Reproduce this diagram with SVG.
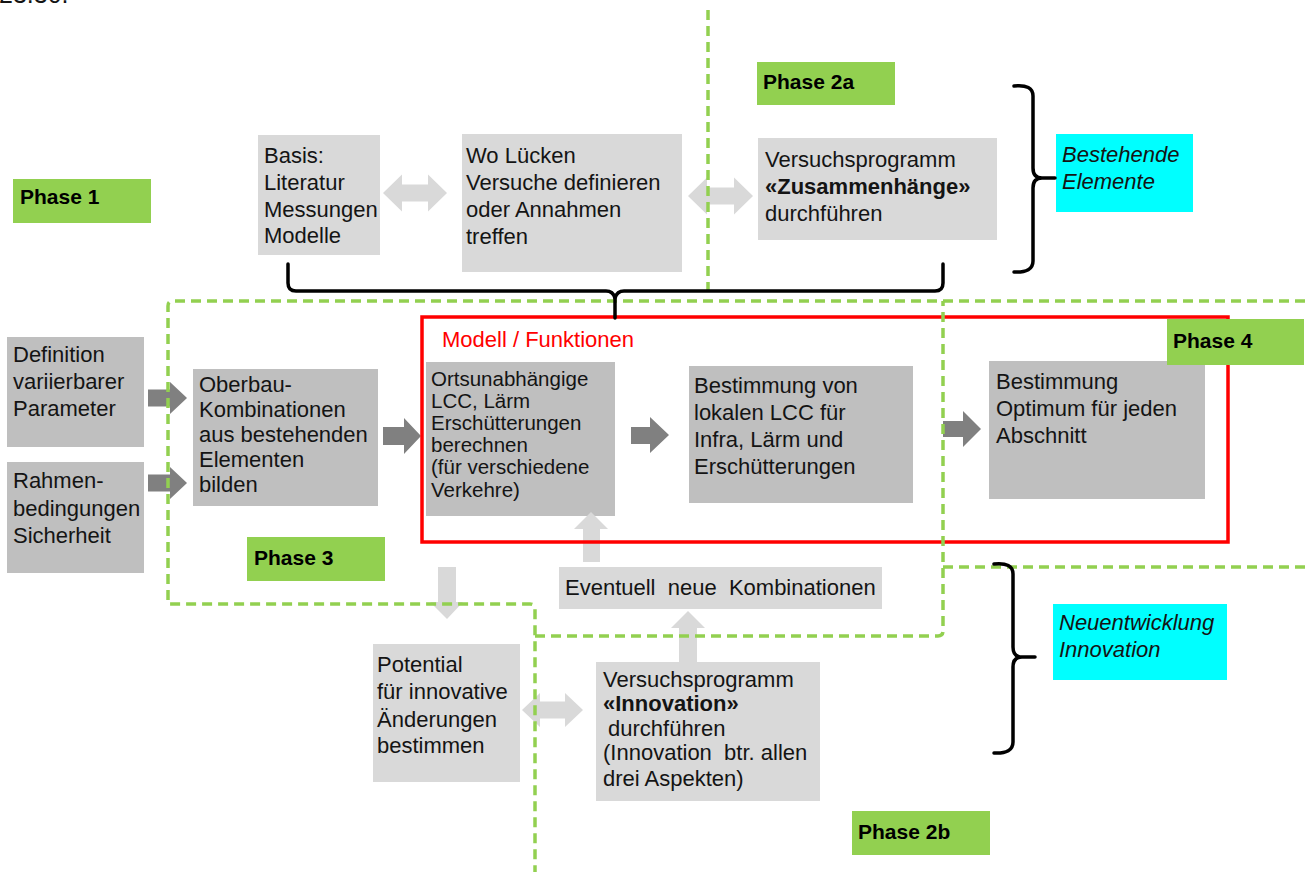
<svg xmlns="http://www.w3.org/2000/svg" width="1309" height="872" viewBox="0 0 1309 872">
<style>
.t{font-family:"Liberation Sans",Arial,sans-serif;font-size:22px;fill:#141414}
.s{font-size:20.5px}
.b{font-weight:bold}
.i{font-style:italic}
.lg{fill:#d9d9d9}
.dg{fill:#bfbfbf}
.ph{fill:#92d050}
.ph-t{font-family:"Liberation Sans",Arial,sans-serif;font-size:21px;font-weight:bold;fill:#000}
.cy{fill:#00ffff}
.la{fill:#d9d9d9}
.da{fill:#808080}
.dash{fill:none;stroke:#92d050;stroke-width:3.5;stroke-dasharray:10 6}
.brace{fill:none;stroke:#000;stroke-width:3.5;stroke-linecap:round;stroke-linejoin:round}
</style>
<rect width="1309" height="872" fill="#fff"/>
<text class="t" x="-1" y="3" style="font-size:25px">23.30.</text>

<g id="node-basis">
<rect class="lg" x="258" y="135" width="122" height="120"/>
<text class="t"><tspan x="264" y="163">Basis:</tspan><tspan x="264" y="190">Literatur</tspan><tspan x="264" y="217">Messungen</tspan><tspan x="264" y="243">Modelle</tspan></text>
</g>
<g id="node-luecken">
<rect class="lg" x="462" y="134" width="220" height="138"/>
<text class="t"><tspan x="466" y="163">Wo Lücken</tspan><tspan x="466" y="190">Versuche definieren</tspan><tspan x="466" y="217">oder Annahmen</tspan><tspan x="466" y="244">treffen</tspan></text>
</g>
<g id="node-zusammenhaenge">
<rect class="lg" x="758" y="138" width="239" height="102"/>
<text class="t"><tspan x="765" y="167">Versuchsprogramm</tspan><tspan x="765" y="194" class="b">«Zusammenhänge»</tspan><tspan x="765" y="221">durchführen</tspan></text>
</g>
<g id="node-bestehende">
<rect class="cy" x="1056" y="134" width="137" height="78"/>
<text class="t i"><tspan x="1062" y="162">Bestehende</tspan><tspan x="1062" y="189">Elemente</tspan></text>
</g>
<g id="node-definition">
<rect class="dg" x="7" y="337" width="137" height="110"/>
<text class="t"><tspan x="13" y="362">Definition</tspan><tspan x="13" y="389">variierbarer</tspan><tspan x="13" y="416">Parameter</tspan></text>
</g>
<g id="node-rahmen">
<rect class="dg" x="7" y="462" width="137" height="111"/>
<text class="t"><tspan x="13" y="488">Rahmen-</tspan><tspan x="13" y="516">bedingungen</tspan><tspan x="13" y="543">Sicherheit</tspan></text>
</g>
<g id="node-oberbau">
<rect class="dg" x="193" y="369" width="185" height="137"/>
<text class="t"><tspan x="199" y="392">Oberbau-</tspan><tspan x="199" y="417">Kombinationen</tspan><tspan x="199" y="442">aus bestehenden</tspan><tspan x="199" y="467">Elementen</tspan><tspan x="199" y="492">bilden</tspan></text>
</g>
<g id="node-ortsunabhaengig">
<rect class="dg" x="426" y="362" width="189" height="154"/>
<text class="t s"><tspan x="431" y="386">Ortsunabhängige</tspan><tspan x="431" y="408">LCC, Lärm</tspan><tspan x="431" y="430">Erschütterungen</tspan><tspan x="431" y="452">berechnen</tspan><tspan x="431" y="474">(für verschiedene</tspan><tspan x="431" y="497">Verkehre)</tspan></text>
</g>
<g id="node-lokal">
<rect class="dg" x="689" y="366" width="224" height="137"/>
<text class="t"><tspan x="694" y="393">Bestimmung von</tspan><tspan x="694" y="420">lokalen LCC für</tspan><tspan x="694" y="447">Infra, Lärm und</tspan><tspan x="694" y="474">Erschütterungen</tspan></text>
</g>
<g id="node-optimum">
<rect class="dg" x="989" y="361" width="216" height="138"/>
<text class="t"><tspan x="996" y="389">Bestimmung</tspan><tspan x="996" y="416">Optimum für jeden</tspan><tspan x="996" y="443">Abschnitt</tspan></text>
</g>
<g id="node-eventuell">
<rect class="lg" x="559" y="567" width="323" height="42"/>
<text class="t" x="565" y="595" xml:space="preserve">Eventuell  neue  Kombinationen</text>
</g>
<g id="node-potential">
<rect class="lg" x="373" y="644" width="147" height="138"/>
<text class="t"><tspan x="377" y="672">Potential</tspan><tspan x="377" y="699">für innovative</tspan><tspan x="377" y="727">Änderungen</tspan><tspan x="377" y="753">bestimmen</tspan></text>
</g>
<g id="node-innovation">
<rect class="lg" x="596" y="662" width="224" height="139"/>
<text class="t"><tspan x="603" y="687">Versuchsprogramm</tspan><tspan x="603" y="711" class="b">«Innovation»</tspan><tspan x="608" y="736">durchführen</tspan><tspan x="603" y="760" xml:space="preserve">(Innovation  btr. allen</tspan><tspan x="603" y="786">drei Aspekten)</tspan></text>
</g>
<g id="node-neuentwicklung">
<rect class="cy" x="1053" y="604" width="174" height="76"/>
<text class="t i"><tspan x="1059" y="630">Neuentwicklung</tspan><tspan x="1059" y="657">Innovation</tspan></text>
</g>

<g id="connectors">
<polygon class="la" points="383,193 402,174.5 402,184.5 428,184.5 428,174.5 447,193 428,211.5 428,201.5 402,201.5 402,211.5"/>
<polygon class="la" points="688,196 707,177.5 707,187.5 734,187.5 734,177.5 753,196 734,214.5 734,204.5 707,204.5 707,214.5"/>
<polygon class="la" points="522,710 540,693 540,701.5 565,701.5 565,693 583,710 565,727 565,718.5 540,718.5 540,727"/>
<polygon class="la" points="591,512 608,529 600,529 600,562 583,562 583,529 574,529"/>
<polygon class="la" points="688,611 705,628 697,628 697,662 679,662 679,628 671,628"/>
<polygon class="la" points="438,567 456,567 456,602 463,602 447,619 430,602 438,602"/>
<polygon class="da" points="148,389.5 170,389.5 170,382 187,398 170,414 170,406.5 148,406.5"/>
<polygon class="da" points="148,474.5 170,474.5 170,467 187,483 170,499 170,491.5 148,491.5"/>
<polygon class="da" points="383,427 404,427 404,418 421,436 404,454 404,445 383,445"/>
<polygon class="da" points="631,427 650,427 650,417 669,435 650,453 650,444 631,444"/>
<polygon class="da" points="943,421 963,421 963,411 981,429 963,447 963,437 943,437"/>
</g>

<g id="model-frame">
<rect x="422" y="317" width="806" height="225" fill="none" stroke="#ff0000" stroke-width="3.5"/>
<text class="t" x="442" y="347" style="fill:#ff0000">Modell / Funktionen</text>
</g>

<g id="phase-boundaries">
<path class="dash" d="M708 10 L708 297"/>
<path class="dash" d="M1305 301 L173 301 Q168 301 168 306 L168 604 L530 604 Q535 604 535 609 L535 872"/>
<path class="dash" d="M535 636 L938 636 Q943 636 943 631 L943 301"/>
<path class="dash" d="M943 567 L1305 567"/>
</g>

<g id="braces">
<path class="brace" d="M288 264 L288 283 Q288 291 296 291 L606 291 Q613 291 615 298 Q617 291 624 291 L935 291 Q943 291 943 283 L943 264"/>
<path class="brace" d="M615 296 L615 318"/>
<path class="brace" d="M1014 86 Q1033 84 1033 96 L1033 168 Q1033 178 1042 178 L1055 178 M1042 178 Q1033 178 1033 188 L1033 261 Q1033 273 1014 272"/>
<path class="brace" d="M994 564 Q1013 562 1013 574 L1013 647 Q1013 657 1022 657 L1035 657 M1022 657 Q1013 657 1013 667 L1013 742 Q1013 754 994 753"/>
</g>

<g id="phase-1"><rect class="ph" x="13" y="179" width="138" height="44"/><text class="ph-t" x="20" y="204">Phase 1</text></g>
<g id="phase-2a"><rect class="ph" x="757" y="62" width="138" height="43"/><text class="ph-t" x="763" y="89">Phase 2a</text></g>
<g id="phase-3"><rect class="ph" x="247" y="537" width="138" height="44"/><text class="ph-t" x="254" y="565">Phase 3</text></g>
<g id="phase-4"><rect class="ph" x="1167" y="319" width="137" height="46"/><text class="ph-t" x="1173" y="348">Phase 4</text></g>
<g id="phase-2b"><rect class="ph" x="852" y="811" width="138" height="44"/><text class="ph-t" x="858" y="839">Phase 2b</text></g>
</svg>
